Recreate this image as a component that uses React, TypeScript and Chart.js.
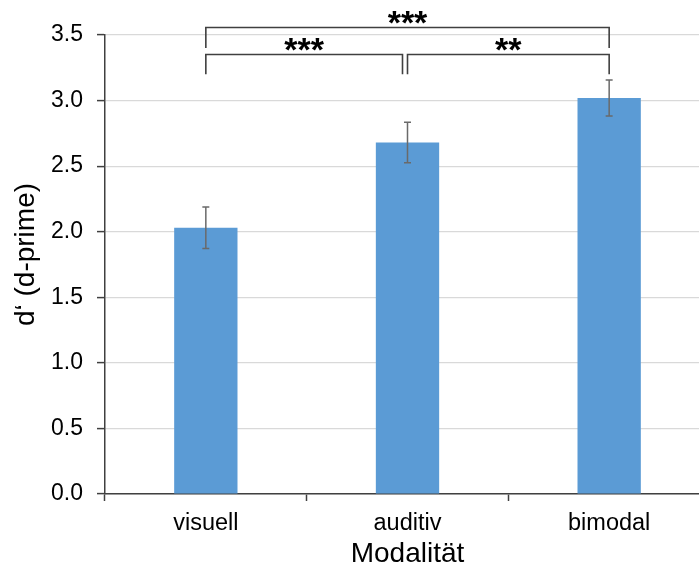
import React, { useEffect, useRef } from 'react';
import { Chart, registerables } from 'chart.js';

Chart.register(...registerables);

const categories = ['visuell', 'auditiv', 'bimodal'];
const means = [2.03, 2.68, 3.02];
const errors = [0.158, 0.155, 0.137];
const yMin = 0;
const yMax = 3.5;
const yStep = 0.5;
const bracketFrom = [0, 0, 1];
const bracketTo = [2, 1, 2];
const bracketTop = [3.557, 3.351, 3.351];
const bracketBottom = [3.401, 3.201, 3.201];
const bracketLabels = ['***', '***', '**'];
const yTitle = 'd‘ (d-prime)';
const xTitle = 'Modalität';

const FONT = "'Liberation Sans', Arial, sans-serif";
const AXIS = '#404040';

const overlay = {
  id: 'overlay',
  afterDatasetsDraw(chart: any) {
    const ctx = chart.ctx;
    const xs = chart.scales.x;
    const ys = chart.scales.y;
    ctx.save();
    ctx.strokeStyle = '#6a6a6a';
    ctx.lineWidth = 1.5;
    means.forEach((m, i) => {
      const cx = xs.getPixelForValue(i);
      const t = ys.getPixelForValue(m + errors[i]);
      const b = ys.getPixelForValue(m - errors[i]);
      ctx.beginPath();
      ctx.moveTo(cx, t);
      ctx.lineTo(cx, b);
      ctx.moveTo(cx - 3.5, t);
      ctx.lineTo(cx + 3.5, t);
      ctx.moveTo(cx - 3.5, b);
      ctx.lineTo(cx + 3.5, b);
      ctx.stroke();
    });
    ctx.restore();
  },
  afterDraw(chart: any) {
    const ctx = chart.ctx;
    const xs = chart.scales.x;
    const ys = chart.scales.y;
    ctx.save();
    ctx.strokeStyle = AXIS;
    ctx.lineWidth = 1.6;
    ctx.fillStyle = '#000000';
    ctx.font = `bold 34px ${FONT}`;
    ctx.textAlign = 'center';
    ctx.textBaseline = 'alphabetic';
    bracketLabels.forEach((lab, i) => {
      const x1 = xs.getPixelForValue(bracketFrom[i]);
      let x2 = xs.getPixelForValue(bracketTo[i]);
      const shared = bracketFrom.some((f, j) => j !== i && f === bracketTo[i] && bracketTop[j] === bracketTop[i]);
      if (shared) x2 -= 5;
      const yt = ys.getPixelForValue(bracketTop[i]);
      const yb = ys.getPixelForValue(bracketBottom[i]);
      ctx.beginPath();
      ctx.moveTo(x1, yb);
      ctx.lineTo(x1, yt);
      ctx.lineTo(x2, yt);
      ctx.lineTo(x2, yb);
      ctx.stroke();
      const mt = ctx.measureText(lab);
      const asc = mt.actualBoundingBoxAscent;
      const desc = mt.actualBoundingBoxDescent;
      const centerY = yt - 10.5;
      const baseline = centerY + (asc - desc) / 2;
      ctx.fillText(lab, (x1 + x2) / 2, baseline);
    });
    // y axis title
    ctx.save();
    ctx.font = `28px ${FONT}`;
    ctx.textAlign = 'center';
    ctx.textBaseline = 'middle';
    ctx.translate(26.5, (chart.chartArea.top + chart.chartArea.bottom) / 2 - 10);
    ctx.rotate(-Math.PI / 2);
    ctx.fillText(yTitle, 0, 0);
    ctx.restore();
    ctx.restore();
  },
};

export default function App() {
  const ref = useRef<HTMLCanvasElement | null>(null);
  useEffect(() => {
    if (!ref.current) return;
    const chart = new Chart(ref.current, {
      type: 'bar',
      data: {
        labels: categories,
        datasets: [
          {
            data: means,
            backgroundColor: '#5b9bd5',
            borderWidth: 0,
            barPercentage: 0.314,
            categoryPercentage: 1,
          },
        ],
      },
      options: {
        responsive: false,
        animation: false,
        devicePixelRatio: 1,
        layout: { padding: { top: 35, right: 5, left: 0, bottom: 0 } },
        plugins: { legend: { display: false }, tooltip: { enabled: false } },
        scales: {
          x: {
            offset: true,
            grid: {
              display: true,
              offset: true,
              drawOnChartArea: false,
              drawTicks: true,
              tickLength: 7,
              tickColor: AXIS,
              tickWidth: 1.5,
            },
            border: { display: true, color: AXIS, width: 1.5 },
            ticks: {
              color: '#000000',
              font: { family: FONT, size: 23.5 },
              padding: 8,
            },
            title: {
              display: true,
              text: xTitle,
              color: '#000000',
              font: { family: FONT, size: 28 },
              padding: { top: 0, bottom: 0 },
            },
            afterFit(scale: any) {
              scale.height = 77;
            },
          },
          y: {
            min: yMin,
            max: yMax,
            ticks: {
              stepSize: yStep,
              color: '#000000',
              font: { family: FONT, size: 23 },
              padding: 14,
              callback: (v: any) => Number(v).toFixed(1),
            },
            grid: {
              color: '#d9d9d9',
              lineWidth: 1.2,
              drawTicks: true,
              tickLength: 8,
              tickColor: AXIS,
              tickWidth: 1.5,
            },
            border: { display: true, color: AXIS, width: 1.5 },
            title: { display: false, text: yTitle },
            afterFit(scale: any) {
              scale.width = 105;
            },
          },
        },
      },
      plugins: [overlay],
    });
    return () => chart.destroy();
  }, []);
  return (
    <div
      style={{
        position: 'fixed',
        left: 0,
        top: 0,
        width: 699,
        height: 571,
        overflow: 'hidden',
        background: '#ffffff',
      }}
    >
      <canvas ref={ref} width={715} height={571} style={{ display: 'block' }} />
    </div>
  );
}
